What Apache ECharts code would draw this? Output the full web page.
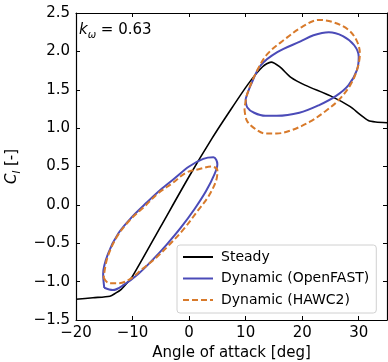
<!DOCTYPE html>
<html>
<head>
<meta charset="utf-8">
<script src="https://cdn.jsdelivr.net/npm/echarts@6/dist/echarts.min.js"></script>
<style>
  html, body { margin: 0; padding: 0; background: #fff; }
  #chart { width: 388px; height: 362px; }
</style>
</head>
<body>
<div id="chart"></div>
<script>
// steady polar
const steadyAoa = [-20, -17, -14, -13, -12, -11, -10, -5, 0, 4, 7, 10.5, 13, 14.5, 16, 18, 20.5, 25, 28.5, 30.2, 31.7, 33, 35];
const steadyCl = [-1.23, -1.21, -1.19, -1.15, -1.1, -1.02, -0.93, -0.28, 0.37, 0.86, 1.2, 1.58, 1.8, 1.86, 1.8, 1.66, 1.56, 1.42, 1.28, 1.18, 1.1, 1.08, 1.07];

// OpenFAST loops
const ofSmallAoa = [-15.0, -13.5, -11.5, -9, -6.5, -4, -1.5, 1, 3, 4.5, 5.0, 4.3, 2.5, 0, -2.5, -5, -7.5, -10, -12.5, -14.3, -15.2, -15.0];
const ofSmallCl = [-1.08, -1.11, -1.04, -0.9, -0.72, -0.52, -0.3, -0.05, 0.18, 0.4, 0.53, 0.62, 0.6, 0.5, 0.35, 0.2, 0.03, -0.15, -0.37, -0.63, -0.9, -1.08];
const ofBigAoa = [10.0, 10.3, 11.5, 13.5, 15.5, 19.5, 23, 26, 28.2, 29.7, 30.0, 29.2, 27.2, 24.7, 22, 19.7, 15.6, 12.7, 10.9, 10.0];
const ofBigCl = [1.38, 1.27, 1.2, 1.16, 1.16, 1.2, 1.3, 1.42, 1.56, 1.76, 1.93, 2.08, 2.2, 2.25, 2.21, 2.13, 1.99, 1.82, 1.56, 1.38];

// HAWC2 loops
const hwSmallAoa = [-15.1, -14.2, -12.5, -10.5, -8.5, -6, -3.5, -1, 1.5, 3.5, 4.9, 5.0, 4, 2, -0.5, -3, -5.5, -8, -10.5, -12.8, -14.5, -15.1];
const hwSmallCl = [-0.95, -1.02, -1.02, -0.97, -0.85, -0.7, -0.52, -0.32, -0.08, 0.12, 0.35, 0.45, 0.5, 0.47, 0.42, 0.28, 0.15, -0.03, -0.2, -0.42, -0.7, -0.95];
const hwBigAoa = [9.8, 10.2, 11.5, 13.5, 15.5, 18, 21.3, 24.1, 26.5, 28.5, 29.7, 30.2, 29.7, 28.2, 25.5, 23, 20, 16.8, 13.9, 12.1, 10.3, 9.8];
const hwBigCl = [1.25, 1.1, 1.0, 0.93, 0.93, 0.97, 1.08, 1.22, 1.37, 1.56, 1.76, 1.97, 2.13, 2.28, 2.38, 2.41, 2.32, 2.15, 1.97, 1.76, 1.45, 1.25];

const xTicks = [-20, -10, 0, 10, 20, 30];
const yTicks = [-1.5, -1.0, -0.5, 0.0, 0.5, 1.0, 1.5, 2.0, 2.5];

const pairs = (xs, ys) => xs.map((x, i) => [x, ys[i]]);
const minus = s => String(s).replace('-', '\u2212');

const FONT = 'DejaVu Sans';
const BLUE = '#4b4bb8';
const ORANGE = '#d87a2b';

const chart = echarts.init(document.getElementById('chart'));

const frameAxis = {
    axisLine: { show: true, onZero: false, lineStyle: { color: '#000', width: 1.2 } },
    axisTick: { show: true, inside: true, length: 4, lineStyle: { color: '#000', width: 1 } },
    splitLine: { show: false }
};

const blueLine = { color: BLUE, width: 2 };
const orangeLine = { color: ORANGE, width: 2, type: [6, 3] };

chart.setOption({
    animation: false,
    textStyle: { fontFamily: FONT },
    grid: { left: 76, right: 1, top: 13, bottom: 42, outerBoundsMode: 'none' },
    title: {
        text: '{k|k}{s|ω}{n| = 0.63}',
        left: 79, top: 20, padding: 0,
        textStyle: {
            fontWeight: 'normal',
            rich: {
                k: { fontFamily: FONT, fontSize: 15, fontStyle: 'italic', fontWeight: 'normal', color: '#000', lineHeight: 20 },
                s: { fontFamily: FONT, fontSize: 10, fontStyle: 'italic', fontWeight: 'normal', color: '#000', lineHeight: 13, verticalAlign: 'bottom' },
                n: { fontFamily: FONT, fontSize: 15, fontWeight: 'normal', color: '#000', lineHeight: 20 }
            }
        }
    },
    legend: {
        orient: 'vertical',
        left: 177, top: 245,
        padding: [5, 7, 6, 5],
        itemWidth: 30, itemHeight: 14, itemGap: 7.5,
        itemStyle: { opacity: 0 },
        backgroundColor: 'rgba(255,255,255,0.8)',
        borderColor: '#d0d0d0', borderWidth: 1, borderRadius: 3,
        textStyle: { fontFamily: FONT, fontSize: 14, color: '#000', padding: [0, 0, 0, 3] },
        data: ['Steady', 'Dynamic (OpenFAST)', 'Dynamic (HAWC2)']
    },
    xAxis: [
        Object.assign({
            type: 'value', min: -20, max: 35, interval: 10,
            name: 'Angle of attack [deg]', nameLocation: 'middle', nameGap: 22,
            nameTextStyle: { fontFamily: FONT, fontSize: 15, color: '#000' },
            axisLabel: {
                margin: 6, fontFamily: FONT, fontSize: 15, color: '#000', showMaxLabel: false,
                formatter: v => (xTicks.indexOf(v) >= 0 ? minus(v) : '')
            }
        }, frameAxis),
        Object.assign({
            type: 'value', position: 'top', min: -20, max: 35, interval: 10,
            axisLabel: { show: false }
        }, frameAxis)
    ],
    yAxis: [
        Object.assign({
            type: 'value', min: -1.5, max: 2.5, interval: 0.5,
            name: '{c|C}{l|l}{n| [-]}', nameLocation: 'middle', nameGap: 54,
            nameTextStyle: {
                rich: {
                    c: { fontFamily: FONT, fontSize: 15, fontStyle: 'italic', color: '#000', lineHeight: 20 },
                    l: { fontFamily: FONT, fontSize: 10, fontStyle: 'italic', color: '#000', lineHeight: 13, verticalAlign: 'bottom' },
                    n: { fontFamily: FONT, fontSize: 15, color: '#000', lineHeight: 20 }
                }
            },
            axisLabel: {
                margin: 6, fontFamily: FONT, fontSize: 15, color: '#000',
                formatter: v => (yTicks.some(t => Math.abs(t - v) < 1e-9) ? minus(v.toFixed(1)) : '')
            }
        }, frameAxis),
        Object.assign({
            type: 'value', position: 'right', min: -1.5, max: 2.5, interval: 0.5,
            axisLabel: { show: false }
        }, frameAxis)
    ],
    series: [
        {
            name: 'Steady', type: 'line', data: pairs(steadyAoa, steadyCl),
            showSymbol: false, symbol: 'none', smooth: 0.25,
            color: '#000', lineStyle: { color: '#000', width: 1.6 }
        },
        {
            name: 'Dynamic (OpenFAST)', type: 'line', data: pairs(ofSmallAoa, ofSmallCl),
            showSymbol: false, symbol: 'none', smooth: 0.35, color: BLUE, lineStyle: blueLine
        },
        {
            name: 'Dynamic (OpenFAST)', type: 'line', data: pairs(ofBigAoa, ofBigCl),
            showSymbol: false, symbol: 'none', smooth: 0.35, color: BLUE, lineStyle: blueLine
        },
        {
            name: 'Dynamic (HAWC2)', type: 'line', data: pairs(hwSmallAoa, hwSmallCl),
            showSymbol: false, symbol: 'none', smooth: 0.35, color: ORANGE, lineStyle: orangeLine
        },
        {
            name: 'Dynamic (HAWC2)', type: 'line', data: pairs(hwBigAoa, hwBigCl),
            showSymbol: false, symbol: 'none', smooth: 0.35, color: ORANGE, lineStyle: orangeLine
        }
    ]
});
</script>
</body>
</html>
